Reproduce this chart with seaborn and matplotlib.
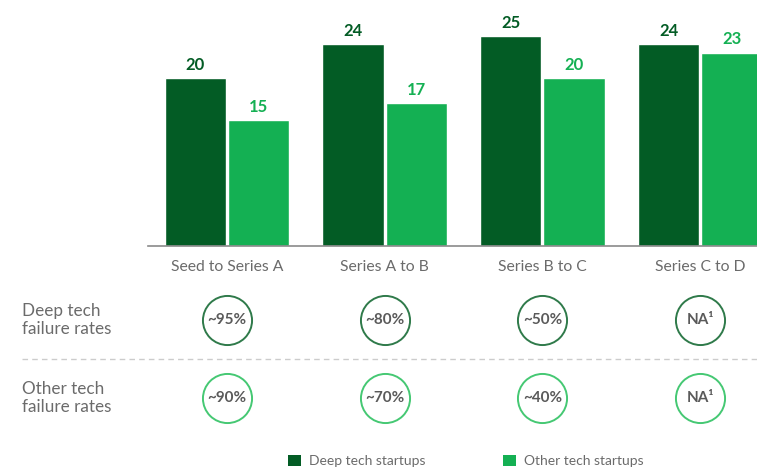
import pandas as pd
import numpy as np
import matplotlib.pyplot as plt
import seaborn as sns
from matplotlib.patches import Patch

# data
stages = ["Seed to Series A", "Series A to B", "Series B to C", "Series C to D"]
deep_tech = [20, 24, 25, 24]
other_tech = [15, 17, 20, 23]
deep_fail = ["~95%", "~80%", "~50%", "NA¹"]
other_fail = ["~90%", "~70%", "~40%", "NA¹"]
series_names = ["Deep tech startups", "Other tech startups"]
row_names = ["Deep tech\nfailure rates", "Other tech\nfailure rates"]

DARK = "#035C25"
LIGHT = "#14B053"
RING_DARK = "#2F7A4A"
RING_LIGHT = "#45C873"
GREY_TXT = "#6b6b6b"

sns.set_theme(style="white")
plt.rcParams['font.family'] = ['Lato', 'DejaVu Sans']

df = pd.DataFrame({
    "Stage": stages * 2,
    "Years": deep_tech + other_tech,
    "Type": [series_names[0]] * 4 + [series_names[1]] * 4,
})

fig = plt.figure(figsize=(7.57, 4.70), dpi=100)
ax = fig.add_axes([148 / 757, 224 / 470, 609 / 757, 246 / 470])

sns.barplot(data=df, x="Stage", y="Years", hue="Type", palette=[DARK, LIGHT],
            width=0.8, gap=0.03, saturation=1, ax=ax, legend=False)

for cont, col in zip(ax.containers, [DARK, LIGHT]):
    ax.bar_label(cont, fmt="%d", padding=4, color=col, fontsize=12, fontweight="bold")

ax.set_xlim(-0.5, 3.36)
ax.set_ylim(0, 29.3)
ax.set_yticks([])
ax.set_xlabel("")
ax.set_ylabel("")
for s in ["top", "right", "left"]:
    ax.spines[s].set_visible(False)
ax.spines["bottom"].set_color("#8a8a8a")
ax.spines["bottom"].set_linewidth(1.2)
ax.tick_params(axis="x", length=0, pad=10, labelsize=11.3, labelcolor=GREY_TXT)

# failure-rate rows below the bars, sharing the category positions
ax2 = fig.add_axes([148 / 757, 0, 609 / 757, 224 / 470])
ax2.set_xlim(-0.5, 3.36)
ax2.set_ylim(1.923, -0.949)
ax2.axis("off")
x = np.arange(len(stages))
for row, (labels, ring) in enumerate([(deep_fail, RING_DARK), (other_fail, RING_LIGHT)]):
    ax2.scatter(x, [row] * len(x), s=1250, facecolors="white", edgecolors=ring,
                linewidths=1.4, zorder=3, clip_on=False)
    for xi, lab in zip(x, labels):
        ax2.text(xi, row, lab, ha="center", va="center", fontsize=11,
                 fontweight="bold", color="#5a5a5a", zorder=4)
    ax2.text(-1.30, row, row_names[row], ha="left", va="center", fontsize=12.3,
             color=GREY_TXT, linespacing=1.2)

ax2.axhline(0.5, xmin=(22 - 148) / 609, xmax=1, color="#cccccc",
            linestyle=(0, (4, 3)), linewidth=1, clip_on=False)

handles = [Patch(facecolor=DARK, edgecolor="none"), Patch(facecolor=LIGHT, edgecolor="none")]
fig.legend(handles, series_names, loc="center", bbox_to_anchor=(466 / 757, 9 / 470),
           ncol=2, frameon=False, fontsize=10, handlelength=0.9, handleheight=0.9,
           handletextpad=0.6, columnspacing=5.6, labelcolor=GREY_TXT)

fig.savefig("out.png", dpi=100)
